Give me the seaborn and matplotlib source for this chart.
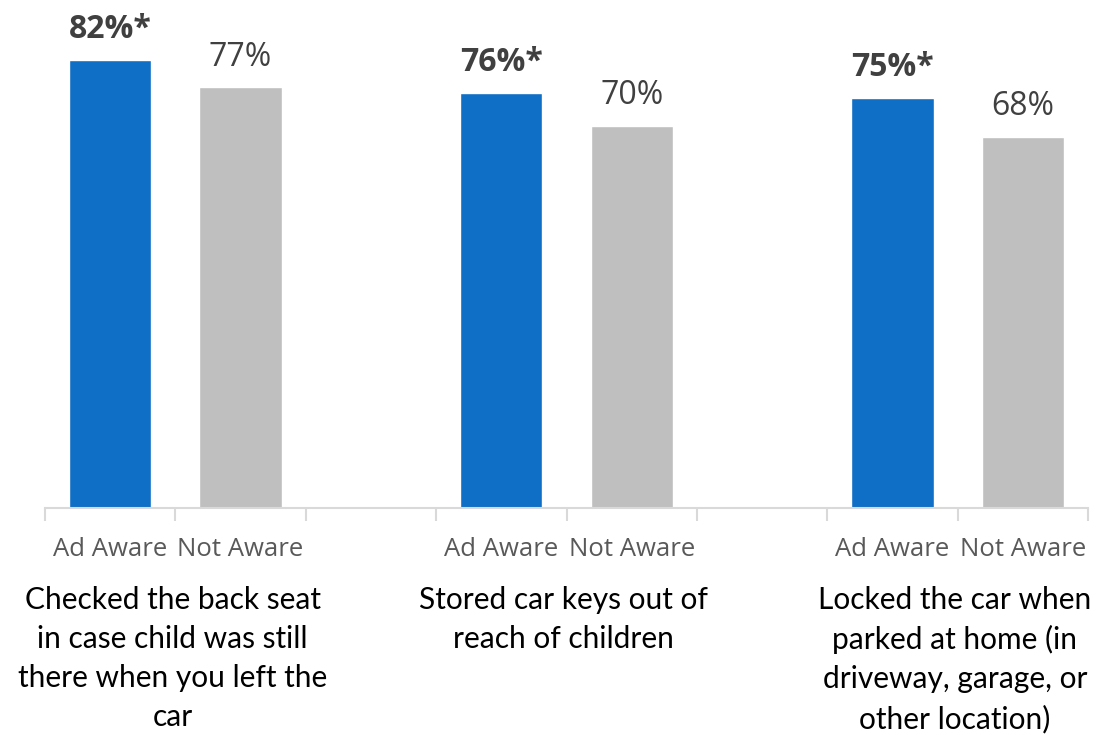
import matplotlib
matplotlib.use("Agg")
import matplotlib.pyplot as plt
import seaborn as sns
import pandas as pd
import numpy as np

# Survey results: share of respondents who took each safety action
actions = [
    "Checked the back seat\nin case child was still\nthere when you left the\ncar",
    "Stored car keys out of\nreach of children",
    "Locked the car when\nparked at home (in\ndriveway, garage, or\nother location)",
]
ad_aware = [82, 76, 75]
not_aware = [77, 70, 68]
significant = [True, True, True]
group_names = ["Ad Aware", "Not Aware"]

sns.set_theme(style="white")
plt.rcParams["font.family"] = ["Open Sans", "DejaVu Sans"]

# Slots along the x axis: two bars per action, separated by an empty slot
slots, slot_labels, rows = [], [], []
for i in range(len(actions)):
    for g, vals in zip(group_names, (ad_aware, not_aware)):
        key = f"{g}|{i}"
        slots.append(key)
        slot_labels.append(g)
        rows.append({"slot": key, "group": g, "value": vals[i], "action": i})
    if i < len(actions) - 1:
        slots.append(f"gap|{i}")
        slot_labels.append("")
df = pd.DataFrame(rows)

fig = plt.figure(figsize=(10.97, 7.35), dpi=100)
ax = fig.add_axes([45 / 1097, 1 - 508 / 735, (1088 - 45) / 1097, 508 / 735])

palette = {"Ad Aware": "#0F6EC6", "Not Aware": "#BFBFBF"}
sns.barplot(data=df, x="slot", y="value", hue="group", order=slots,
            palette=palette, dodge=False, width=0.63, errorbar=None,
            saturation=1, legend=False, ax=ax)

ax.set_xlim(-0.5, len(slots) - 0.5)
ax.set_ylim(0, 93)
ax.set_xlabel("")
ax.set_ylabel("")
ax.set_yticks([])
for side in ("top", "right", "left"):
    ax.spines[side].set_visible(False)
ax.spines["bottom"].set_color("#D9D9D9")
ax.spines["bottom"].set_linewidth(1.5)

ax.set_xticks(range(len(slots)))
ax.set_xticklabels(slot_labels, fontsize=18.5, color="#595959")
ax.tick_params(axis="x", which="major", length=0, pad=21)
ax.set_xticks(np.arange(-0.5, len(slots), 1.0), minor=True)
ax.tick_params(axis="x", which="minor", length=9, width=1.5, color="#D9D9D9",
               direction="out", bottom=True)

# Value labels above each bar
for _, r in df.iterrows():
    x = slots.index(r["slot"])
    is_ad = r["group"] == "Ad Aware"
    text = f"{r['value']}%"
    if is_ad and significant[r["action"]]:
        text += "*"
    ax.annotate(text, (x, r["value"]), xytext=(0, 10), textcoords="offset points",
                ha="center", va="bottom", fontsize=23, color="#404040",
                fontweight="bold" if is_ad else "normal", annotation_clip=False)

# Action descriptions centred under each pair of bars
for i, label in enumerate(actions):
    center = slots.index(f"Ad Aware|{i}") + 0.5
    ax.annotate(label, (center, 0), xycoords=("data", "axes fraction"),
                xytext=(-2, -56), textcoords="offset points",
                ha="center", va="top", fontsize=21.5, color="#000000",
                family=["Lato", "DejaVu Sans"], linespacing=1.48,
                annotation_clip=False)

fig.savefig("out.png", dpi=100)
